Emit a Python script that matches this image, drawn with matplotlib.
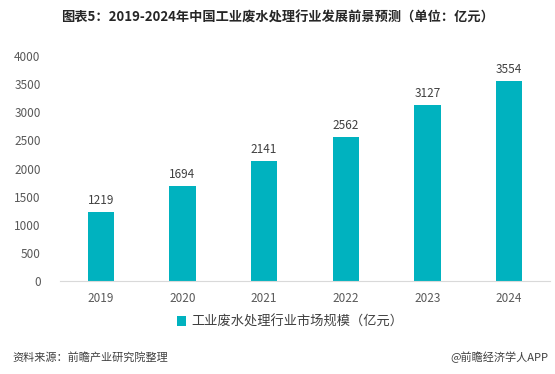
import matplotlib.pyplot as plt

plt.rcParams['font.family'] = ['Noto Sans CJK SC', 'DejaVu Sans']

years = ['2019', '2020', '2021', '2022', '2023', '2024']
market = [1219, 1694, 2141, 2562, 3127, 3554]
yticks = [0, 500, 1000, 1500, 2000, 2500, 3000, 3500, 4000]

bar_color = '#00B2BF'

fig = plt.figure(figsize=(5.55, 3.74), dpi=100)
ax = fig.add_axes([60 / 555, 93 / 374, 490 / 555, 225 / 374])

x = range(len(years))
bars = ax.bar(x, market, width=0.32, color=bar_color,
              label='工业废水处理行业市场规模（亿元）')
for xi, v in zip(x, market):
    ax.text(xi, v + 90, str(v), ha='center', va='bottom',
            fontsize=8.5, color='#404040')

ax.set_xlim(-0.5, len(years) - 0.5)
ax.set_ylim(0, 4000)
ax.set_xticks(list(x))
ax.set_xticklabels(years)
ax.set_yticks(yticks)
ax.tick_params(length=0, labelsize=8.5, colors='#595959')
ax.tick_params(axis='x', pad=8)
ax.tick_params(axis='y', pad=14)
for s in ['top', 'right', 'left']:
    ax.spines[s].set_visible(False)
ax.spines['bottom'].set_color('#d9d9d9')

# legend below the axis
ax.legend(loc='center', bbox_to_anchor=(290 / 555, 1 - 322 / 374),
          bbox_transform=fig.transFigure, frameon=False, fontsize=9.5,
          handlelength=0.7, handleheight=0.7, handletextpad=0.4,
          labelcolor='#404040')

fig.text(0.5, 1 - 18 / 374,
         '图表5：2019-2024年中国工业废水处理行业发展前景预测（单位：亿元）',
         ha='center', va='center', fontsize=9.5, fontweight='bold',
         color='#262626')
fig.text(12 / 555, 1 - 357 / 374, '资料来源：前瞻产业研究院整理',
         ha='left', va='center', fontsize=8, style='italic', color='#404040')
fig.text(548 / 555, 1 - 357 / 374, '@前瞻经济学人APP',
         ha='right', va='center', fontsize=8, color='#404040')

fig.savefig('out.png', dpi=100)
